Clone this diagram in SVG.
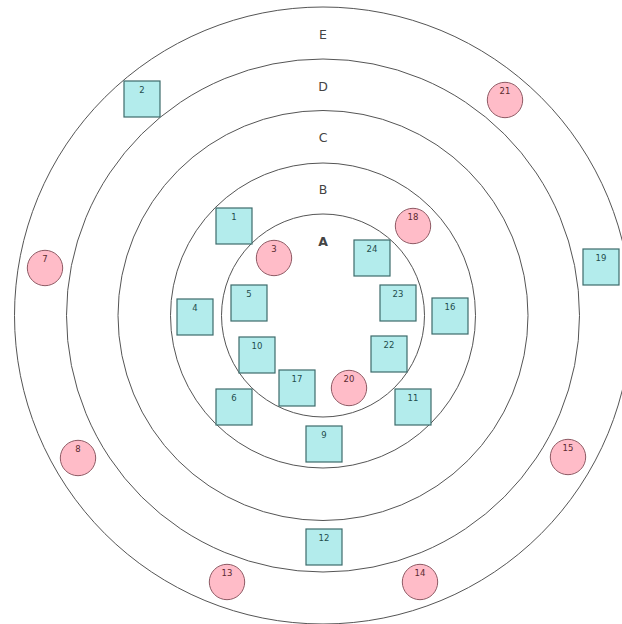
<svg xmlns="http://www.w3.org/2000/svg" width="622" height="624" viewBox="0 0 622 624">
<style>
.ring{fill:none;stroke:#555;stroke-width:1}
.zone{font-family:"DejaVu Sans",Verdana,sans-serif;font-size:12.5px;fill:#444;text-anchor:middle}
.sq rect{fill:#b3ecec;stroke:#3d6b6b;stroke-width:1.2}
.sq text{font-family:"DejaVu Sans",Verdana,sans-serif;font-size:8.5px;fill:#1f4d4d;text-anchor:middle}
.ci circle{fill:#ffbcc8;stroke:#8e5a64;stroke-width:1}
.ci text{font-family:"DejaVu Sans",Verdana,sans-serif;font-size:8.5px;fill:#5a2a30;text-anchor:middle}
</style>
<rect width="622" height="624" fill="#fff"/>
<g id="rings">
<circle class="ring" cx="323" cy="315.5" r="308.5"/>
<circle class="ring" cx="323" cy="315.5" r="256.5"/>
<circle class="ring" cx="323" cy="315.5" r="205"/>
<circle class="ring" cx="323" cy="315.5" r="152.5"/>
<circle class="ring" cx="323" cy="315.5" r="101.5"/>
<text class="zone" x="323" y="38.5">E</text>
<text class="zone" x="323" y="90.5">D</text>
<text class="zone" x="323" y="141.5">C</text>
<text class="zone" x="323" y="193.5">B</text>
<text class="zone" x="323" y="245.5" style="font-weight:bold">A</text>
</g>
<g id="connectors"/>
<g id="n1" class="sq"><rect x="216" y="208" width="36" height="36"/><text x="234" y="219.5">1</text></g>
<g id="n2" class="sq"><rect x="124" y="81" width="36" height="36"/><text x="142" y="92.5">2</text></g>
<g id="n4" class="sq"><rect x="177" y="299" width="36" height="36"/><text x="195" y="310.5">4</text></g>
<g id="n5" class="sq"><rect x="231" y="285" width="36" height="36"/><text x="249" y="296.5">5</text></g>
<g id="n6" class="sq"><rect x="216" y="389" width="36" height="36"/><text x="234" y="400.5">6</text></g>
<g id="n9" class="sq"><rect x="306" y="426" width="36" height="36"/><text x="324" y="437.5">9</text></g>
<g id="n10" class="sq"><rect x="239" y="337" width="36" height="36"/><text x="257" y="348.5">10</text></g>
<g id="n11" class="sq"><rect x="395" y="389" width="36" height="36"/><text x="413" y="400.5">11</text></g>
<g id="n12" class="sq"><rect x="306" y="529" width="36" height="36"/><text x="324" y="540.5">12</text></g>
<g id="n16" class="sq"><rect x="432" y="298" width="36" height="36"/><text x="450" y="309.5">16</text></g>
<g id="n17" class="sq"><rect x="279" y="370" width="36" height="36"/><text x="297" y="381.5">17</text></g>
<g id="n19" class="sq"><rect x="583" y="249" width="36" height="36"/><text x="601" y="260.5">19</text></g>
<g id="n22" class="sq"><rect x="371" y="336" width="36" height="36"/><text x="389" y="347.5">22</text></g>
<g id="n23" class="sq"><rect x="380" y="285" width="36" height="36"/><text x="398" y="296.5">23</text></g>
<g id="n24" class="sq"><rect x="354" y="240" width="36" height="36"/><text x="372" y="251.5">24</text></g>
<g id="n3" class="ci"><circle cx="274" cy="258" r="17.7"/><text x="274" y="251.5">3</text></g>
<g id="n7" class="ci"><circle cx="45" cy="268" r="17.7"/><text x="45" y="261.5">7</text></g>
<g id="n8" class="ci"><circle cx="78" cy="458" r="17.7"/><text x="78" y="451.5">8</text></g>
<g id="n13" class="ci"><circle cx="227" cy="582" r="17.7"/><text x="227" y="575.5">13</text></g>
<g id="n14" class="ci"><circle cx="420" cy="582" r="17.7"/><text x="420" y="575.5">14</text></g>
<g id="n15" class="ci"><circle cx="568" cy="457" r="17.7"/><text x="568" y="450.5">15</text></g>
<g id="n18" class="ci"><circle cx="413" cy="226" r="17.7"/><text x="413" y="219.5">18</text></g>
<g id="n20" class="ci"><circle cx="349" cy="388" r="17.7"/><text x="349" y="381.5">20</text></g>
<g id="n21" class="ci"><circle cx="505" cy="100" r="17.7"/><text x="505" y="93.5">21</text></g>
</svg>
